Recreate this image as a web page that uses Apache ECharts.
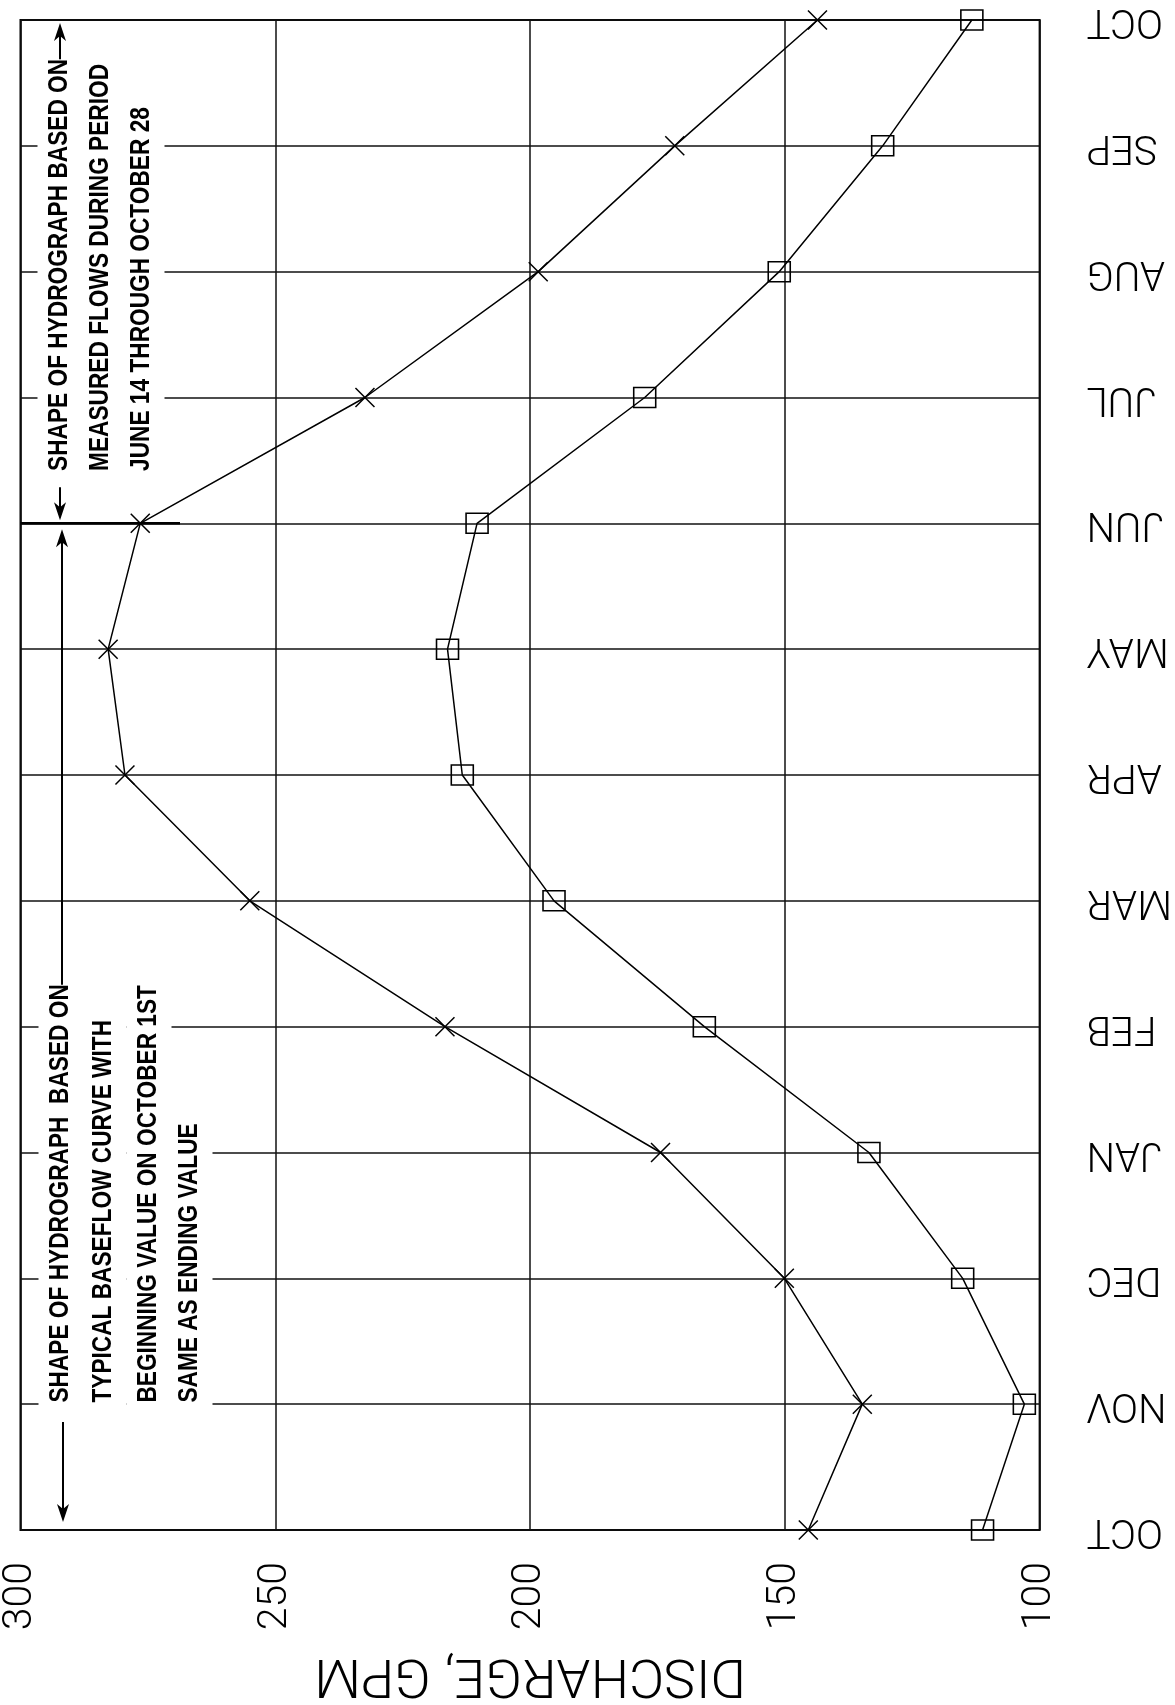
<!DOCTYPE html>
<html>
<head>
<meta charset="utf-8">
<script src="https://cdn.jsdelivr.net/npm/echarts@6/dist/echarts.min.js"></script>
<style>
  html, body { margin: 0; padding: 0; background: #fff; }
  #chart { width: 1175px; height: 1705px; }
</style>
</head>
<body>
<div id="chart"></div>
<script>
// Month sequence of the water year, October through the following October
const months = ['OCT', 'NOV', 'DEC', 'JAN', 'FEB', 'MAR', 'APR', 'MAY', 'JUN', 'JUL', 'AUG', 'SEP', 'OCT'];

// Discharge axis (GPM)
const dischargeMin = 100;
const dischargeMax = 300;
const dischargeStep = 50;

// Hydrograph drawn with "x" markers
const upperCurve = [145.4, 134.8, 150.1, 174.4, 216.7, 255.0, 279.5, 282.8, 276.5, 232.4, 198.4, 171.6, 143.6];
// Hydrograph drawn with square markers
const lowerCurve = [111.2, 103.0, 115.1, 133.5, 165.8, 195.3, 213.3, 216.2, 210.4, 177.5, 151.1, 130.8, 113.3];

// Notes for the measured period (JUN - OCT)
const noteMeasured = [
  'SHAPE OF HYDROGRAPH BASED ON',
  'MEASURED FLOWS DURING PERIOD',
  'JUNE 14 THROUGH OCTOBER 28'
];
// Notes for the baseflow period (OCT - JUN)
const noteBaseflow = [
  'SHAPE OF HYDROGRAPH  BASED ON',
  'TYPICAL BASEFLOW CURVE WITH',
  'BEGINNING VALUE ON OCTOBER 1ST',
  'SAME AS ENDING VALUE'
];

const chart = echarts.init(document.getElementById('chart'), null, { renderer: 'canvas' });

const thinFont = 'Roboto, "Liberation Sans", sans-serif';
const gridLine = { color: '#111', width: 1.5 };

chart.setOption({
  animation: false,
  backgroundColor: '#fff',
  grid: {
    left: 11, right: 123, top: 14, bottom: 173,
    show: true, borderColor: '#000', borderWidth: 2, backgroundColor: '#fff'
  },
  xAxis: {
    type: 'value',
    min: dischargeMin, max: dischargeMax, interval: dischargeStep,
    inverse: true,
    position: 'bottom',
    axisLine: { show: false },
    axisTick: { show: false },
    splitLine: { show: true, lineStyle: gridLine },
    axisLabel: {
      rotate: 90, margin: 32, color: '#000',
      fontFamily: thinFont, fontWeight: 300, fontSize: 41,
      showMinLabel: true, showMaxLabel: true
    },
    name: 'DISCHARGE, GPM',
    nameLocation: 'middle',
    nameRotate: 180,
    nameGap: 116,
    nameTextStyle: { fontFamily: thinFont, fontWeight: 300, fontSize: 54, color: '#000' }
  },
  yAxis: {
    type: 'category',
    data: months,
    boundaryGap: false,
    position: 'right',
    axisLine: { show: false },
    axisTick: { show: false },
    splitLine: { show: true, interval: 0, lineStyle: gridLine },
    axisLabel: {
      interval: 0, rotate: 180, margin: 47, color: '#000',
      fontFamily: thinFont, fontWeight: 300, fontSize: 40
    }
  },
  series: [
    {
      type: 'line',
      data: upperCurve.map((v, i) => [v, i]),
      symbol: 'path://M0,0L10,10M10,0L0,10',
      symbolSize: 19,
      showAllSymbol: true,
      lineStyle: { color: '#000', width: 1.5 },
      itemStyle: { color: 'rgba(0,0,0,0)', borderColor: '#000', borderWidth: 1.5 },
      z: 3
    },
    {
      type: 'line',
      data: lowerCurve.map((v, i) => [v, i]),
      symbol: 'rect',
      symbolSize: [22, 20],
      showAllSymbol: true,
      lineStyle: { color: '#000', width: 1.5 },
      itemStyle: { color: 'rgba(0,0,0,0)', borderColor: '#000', borderWidth: 1.5 },
      z: 3
    }
  ]
});

// ---- annotation block (rotated notes with arrows) ----
const noteFontSize = 27;
const noteScale = 0.84;
const noteFamily = '"Liberation Sans", Arial, sans-serif';
const measureCtx = document.createElement('canvas').getContext('2d');
measureCtx.font = 'bold ' + noteFontSize + 'px ' + noteFamily;
const noteLength = t => measureCtx.measureText(t).width * noteScale;

const yOf = i => chart.convertToPixel({ yAxisIndex: 0 }, i);
const xOf = v => chart.convertToPixel({ xAxisIndex: 0 }, v);
const juneY = yOf(8);
const topY = yOf(12);
const bottomY = yOf(0);
const leftX = xOf(dischargeMax);

function noteText(text, x, yStart) {
  return {
    type: 'text', x: x, y: yStart, rotation: Math.PI / 2,
    scaleX: noteScale, z: 20,
    style: {
      text: text, fill: '#000',
      fontSize: noteFontSize, fontWeight: 'bold', fontFamily: noteFamily,
      align: 'left', verticalAlign: 'middle',
      backgroundColor: '#fff', padding: [9, 10]
    }
  };
}

function arrow(x, yFrom, yTip) {
  const dir = yTip > yFrom ? 1 : -1;
  return [
    { type: 'line', z: 21, shape: { x1: x, y1: yFrom, x2: x, y2: yTip - dir * 10 },
      style: { stroke: '#000', lineWidth: 2 } },
    { type: 'polygon', z: 21,
      shape: { points: [[x, yTip], [x - 6, yTip - dir * 18], [x, yTip - dir * 13], [x + 6, yTip - dir * 18]] },
      style: { fill: '#000' } }
  ];
}

const graphics = [];

// heavier divider along the JUN line under the notes
graphics.push({ type: 'line', z: 19, shape: { x1: leftX, y1: juneY, x2: 180, y2: juneY },
  style: { stroke: '#000', lineWidth: 2.5 } });

// measured-period notes
const measuredX = [60, 101, 142];
const measuredStart = juneY - 44;
noteMeasured.forEach((t, i) => graphics.push(noteText(t, measuredX[i], measuredStart)));
const measuredEnd = measuredStart - noteLength(noteMeasured[0]);
graphics.push(...arrow(measuredX[0], measuredStart + 8, juneY - 3));
graphics.push(...arrow(measuredX[0], measuredEnd - 8, topY + 3));

// baseflow-period notes
const baseflowX = [61, 104, 149, 190];
const baseflowStart = bottomY - 119;
noteBaseflow.forEach((t, i) => graphics.push(noteText(t, baseflowX[i], baseflowStart)));
const baseflowEnd = baseflowStart - noteLength(noteBaseflow[0]);
graphics.push(...arrow(baseflowX[0] + 2, baseflowStart + 11, bottomY - 8));
graphics.push(...arrow(baseflowX[0] + 1, baseflowEnd - 8, juneY + 6));

chart.setOption({ graphic: graphics });
</script>
</body>
</html>
